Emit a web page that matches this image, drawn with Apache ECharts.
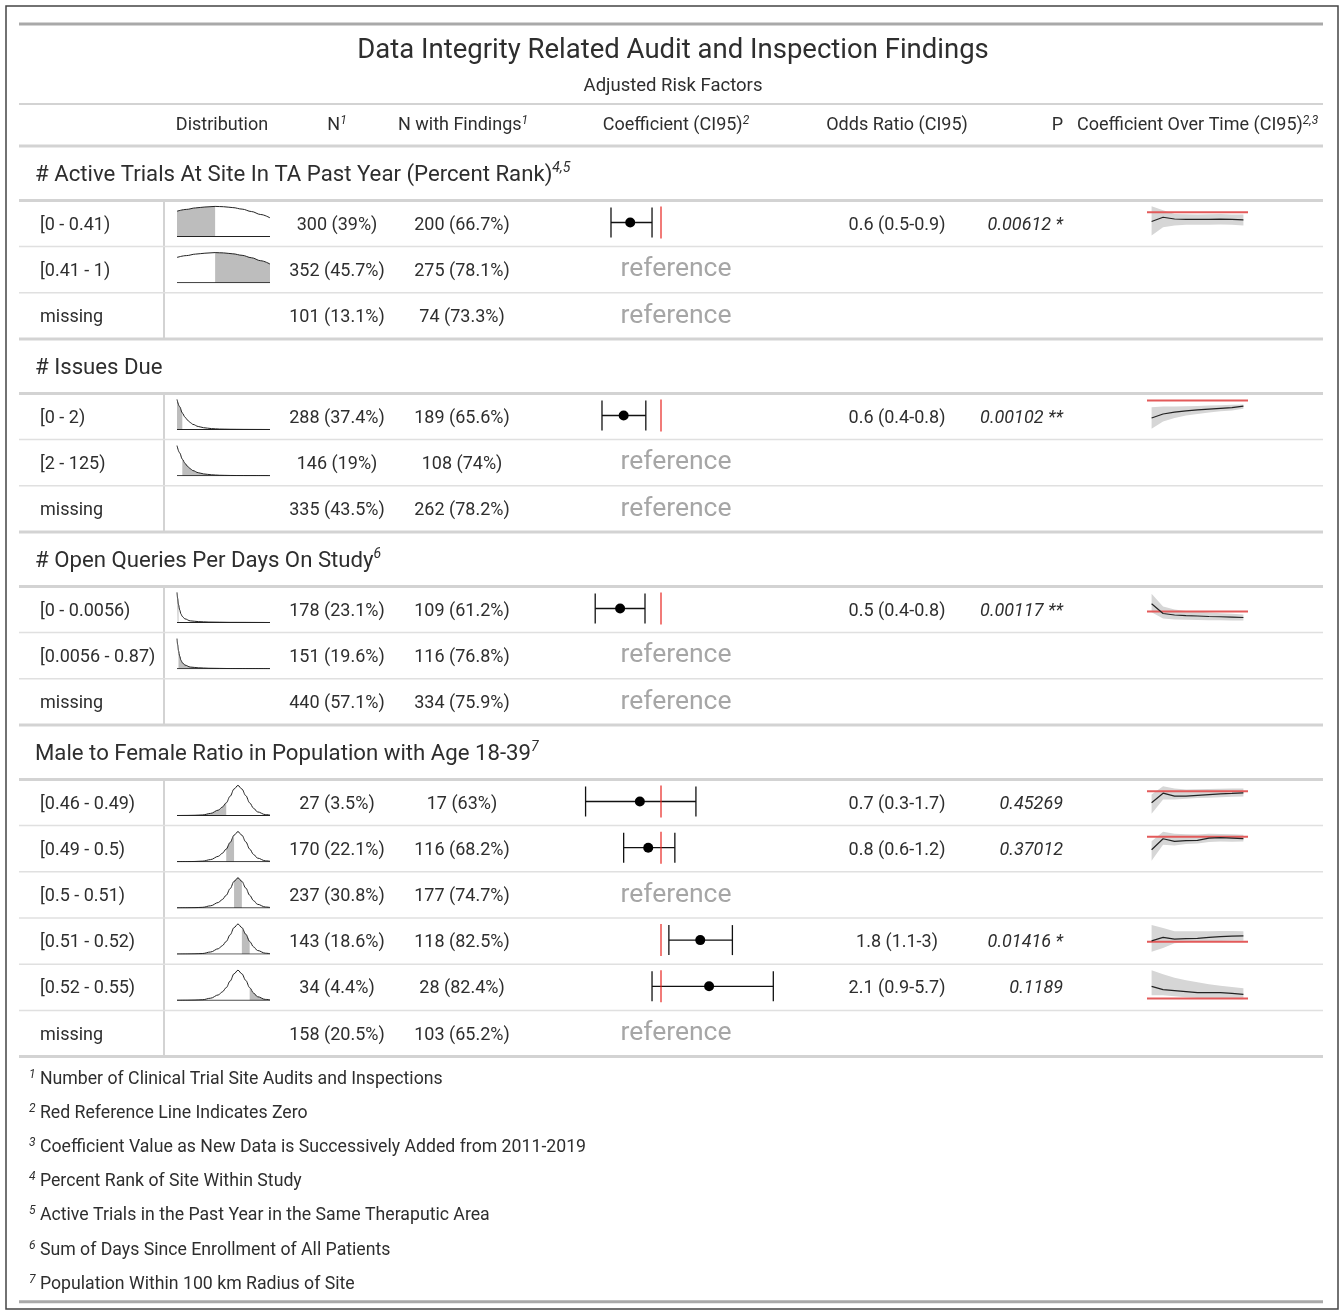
<!DOCTYPE html>
<html>
<head>
<meta charset="utf-8">
<title>Data Integrity Related Audit and Inspection Findings</title>
<script src="https://cdn.jsdelivr.net/npm/echarts@6.0.0/dist/echarts.min.js"></script>
<style>
  html, body { margin: 0; padding: 0; background: #fff; }
  #chart { width: 1341px; height: 1313px; }
</style>
</head>
<body>
<div id="chart"></div>
<script>
// ---------------- data ----------------
const titleText = 'Data Integrity Related Audit and Inspection Findings';
const subtitleText = 'Adjusted Risk Factors';

const groupNames = [
  '# Active Trials At Site In TA Past Year (Percent Rank)',
  '# Issues Due',
  '# Open Queries Per Days On Study',
  'Male to Female Ratio in Population with Age 18-39'
];
const groupSups = ['4,5', '', '6', '7'];
const groupSizes = [3, 3, 3, 6];

const rowLabels = [
  '[0 - 0.41)', '[0.41 - 1)', 'missing',
  '[0 - 2)', '[2 - 125)', 'missing',
  '[0 - 0.0056)', '[0.0056 - 0.87)', 'missing',
  '[0.46 - 0.49)', '[0.49 - 0.5)', '[0.5 - 0.51)', '[0.51 - 0.52)', '[0.52 - 0.55)', 'missing'
];
const totalSites = 770;
const nSites    = [300, 352, 101, 288, 146, 335, 178, 151, 440, 27, 170, 237, 143, 34, 158];
const nFindings = [200, 275, 74, 189, 108, 262, 109, 116, 334, 17, 116, 177, 118, 28, 103];

// odds ratio + CI95 (null = reference level)
const orEst  = [0.62, null, null, 0.56, null, null, 0.53, null, null, 0.72, 0.82, null, 1.84, 2.11, null];
const orLow  = [0.46, null, null, 0.40, null, null, 0.36, null, null, 0.31, 0.56, null, 1.13, 0.87, null];
const orHigh = [0.87, null, null, 0.79, null, null, 0.78, null, null, 1.72, 1.24, null, 3.03, 5.72, null];
const pValues = [0.00612, null, null, 0.00102, null, null, 0.00117, null, null, 0.45269, 0.37012, null, 0.01416, 0.1189, null];

// density curves per group (x on the variable's scale, y relative)
const densX = [
  [0, 0.1, 0.2, 0.3, 0.41, 0.5, 0.6, 0.7, 0.8, 0.9, 1.0],
  [0, 1, 2, 3, 4, 5, 6, 8, 10, 13, 16, 20, 25, 30, 35],
  [0, 0.0025, 0.0056, 0.01, 0.015, 0.02, 0.03, 0.05, 0.08, 0.12, 0.2, 0.35],
  [0.427, 0.44, 0.45, 0.46, 0.47, 0.48, 0.485, 0.49, 0.495, 0.5, 0.505, 0.51, 0.515, 0.52, 0.525, 0.53, 0.54, 0.546]
];
const densY = [
  [0.84, 0.90, 0.95, 0.98, 1.00, 0.99, 0.96, 0.91, 0.83, 0.73, 0.62],
  [1.0, 0.76, 0.55, 0.41, 0.31, 0.23, 0.17, 0.1, 0.06, 0.03, 0.015, 0.008, 0.004, 0.002, 0.0],
  [1.0, 0.8, 0.6, 0.42, 0.28, 0.2, 0.12, 0.055, 0.03, 0.015, 0.005, 0],
  [0.0, 0.003, 0.008, 0.02, 0.07, 0.18, 0.28, 0.42, 0.64, 0.88, 1.0, 0.88, 0.66, 0.42, 0.24, 0.12, 0.03, 0.015]
];
// shaded bin of each row on its group's density axis
const rowBins = [
  [0, 0.41], [0.41, 1], null,
  [0, 2], [2, 35], null,
  [0, 0.0056], [0.0056, 0.35], null,
  [0.46, 0.49], [0.49, 0.5], [0.5, 0.51], [0.51, 0.52], [0.52, 0.546], null
];

// coefficient over time (log odds), 2011-2019
const years = [2011, 2012, 2013, 2014, 2015, 2016, 2017, 2018, 2019];
const trendCoef = [
  [-0.59, -0.32, -0.43, -0.46, -0.46, -0.45, -0.44, -0.46, -0.48], null, null,
  [-1.95, -1.5, -1.3, -1.15, -1.05, -0.95, -0.87, -0.8, -0.62], null, null,
  [0.82, -0.21, -0.37, -0.43, -0.48, -0.53, -0.56, -0.6, -0.64], null, null,
  [-2.3, -0.4, -1.0, -1.0, -0.85, -0.7, -0.55, -0.45, -0.33],
  [-1.34, -0.21, -0.48, -0.41, -0.38, -0.15, -0.1, -0.15, -0.2], null,
  [0.1, 0.45, 0.28, 0.33, 0.35, 0.45, 0.54, 0.59, 0.61],
  [2.12, 1.55, 1.38, 1.21, 1.03, 1.03, 1.03, 0.91, 0.74], null
];
const trendLow = [
  [-1.47, -0.95, -0.84, -0.8, -0.8, -0.79, -0.78, -0.8, -0.84], null, null,
  [-3.14, -2.33, -1.95, -1.67, -1.5, -1.33, -1.2, -1.1, -0.92], null, null,
  [-0.07, -0.74, -0.85, -0.88, -0.9, -0.92, -0.94, -0.95, -0.96], null, null,
  [-4.5, -1.66, -1.66, -1.5, -1.35, -1.3, -1.2, -1.12, -1.06],
  [-2.47, -0.82, -0.9, -0.75, -0.7, -0.55, -0.5, -0.52, -0.5], null,
  [-1.03, -0.65, -0.16, -0.05, 0.0, 0.05, 0.08, 0.1, 0.12],
  [0.57, 0.57, 0.4, 0.22, 0.1, 0.05, 0.0, -0.05, -0.1], null
];
const trendHigh = [
  [0.38, 0.12, -0.12, -0.13, -0.14, -0.13, -0.12, -0.14, -0.15], null, null,
  [-0.74, -0.67, -0.67, -0.64, -0.6, -0.56, -0.52, -0.48, -0.44], null, null,
  [1.88, 0.53, 0.21, 0.05, 0, -0.1, -0.18, -0.25, -0.32], null, null,
  [-0.66, 1.0, 0.54, 0.34, 0.4, 0.45, 0.5, 0.52, 0.54],
  [-0.48, 0.52, 0.31, 0.25, 0.22, 0.3, 0.28, 0.24, 0.2], null,
  [1.72, 1.41, 1.1, 1.1, 1.08, 1.1, 1.12, 1.12, 1.1],
  [4.88, 4.19, 3.6, 3.16, 2.8, 2.47, 2.2, 2.0, 1.78], null
];

const footMarks = ['1', '2', '3', '4', '5', '6', '7'];
const footNotes = [
  'Number of Clinical Trial Site Audits and Inspections',
  'Red Reference Line Indicates Zero',
  'Coefficient Value as New Data is Successively Added from 2011-2019',
  'Percent Rank of Site Within Study',
  'Active Trials in the Past Year in the Same Theraputic Area',
  'Sum of Days Since Enrollment of All Patients',
  'Population Within 100 km Radius of Site'
];

// ---------------- layout ----------------
const FONT = 'Roboto, "Noto Sans", sans-serif';
const INK = '#2e2e2e';
const TBL_L = 19, TBL_R = 1323;
const rowH = 46.2, headH = 54.4, tableTop = 146;
const FS = 18;          // body text size
const TY = 1.5;         // nudge text down to optical centre

// zero-line offset from row centre (px) and px per log-odds unit for each sparkline
const trendZeroOff = [-11.3, null, null, -16, null, null, 2, null, null, -11.3, -12, null, 0.7, 11.3, null];
const trendPx      = [15.8, null, null, 9, null, null, 9.4, null, null, 5, 9.7, null, 9.7, 5.8, null];

// forest axis: OR = 1 at x=661, 64.4 px per log unit
const FOREST_L = 560, FOREST_W = 230, FOREST_ZERO = 661, FOREST_K = 64.4;

const rowCY = [], rowGroup = [], groupCY = [], groupLineY = [], groupBottom = [];
let yy = tableTop;
groupSizes.forEach((n, g) => {
  groupCY.push(yy + 27.5);
  groupLineY.push(yy + headH);
  for (let i = 0; i < n; i++) { rowCY.push(yy + headH + rowH * (i + 0.5)); rowGroup.push(g); }
  yy += headH + rowH * n;
  groupBottom.push(yy);
});

const graphics = [], grids = [], xAxes = [], yAxes = [], series = [];

function hline(y, color, w, x1 = TBL_L, x2 = TBL_R) {
  graphics.push({ type: 'line', silent: true, shape: { x1, y1: y, x2, y2: y }, style: { stroke: color, lineWidth: w } });
}
function vline(x, y1, y2, color, w) {
  graphics.push({ type: 'line', silent: true, shape: { x1: x, y1, x2: x, y2 }, style: { stroke: color, lineWidth: w } });
}
function txt(x, y, text, o = {}) {
  const size = o.size || FS;
  const st = {
    text, fill: o.color || INK, fontSize: size, fontFamily: FONT,
    fontStyle: o.italic ? 'italic' : 'normal',
    align: o.align || 'left', textAlign: o.align || 'left',
    verticalAlign: 'middle', textVerticalAlign: 'middle'
  };
  if (o.rich) st.rich = o.rich;
  graphics.push({ type: 'text', x, y: y + TY, silent: true, style: st });
}
function supRich(size, supSize) {
  return {
    m: { fontSize: size, fontFamily: FONT, fill: INK, lineHeight: Math.round(size * 1.2) },
    s: { fontSize: supSize, fontFamily: FONT, fill: INK, fontStyle: 'italic', verticalAlign: 'top' }
  };
}
function addGrid(left, top, width, height, xr, yr) {
  const i = grids.length;
  grids.push({ left, top, width, height });
  xAxes.push({ gridIndex: i, type: 'value', min: xr[0], max: xr[1], show: false });
  yAxes.push({ gridIndex: i, type: 'value', min: yr[0], max: yr[1], show: false });
  return i;
}
const fmt1 = v => String(Math.round(v * 10) / 10);

// frame + title block
graphics.push({ type: 'rect', silent: true, shape: { x: 6, y: 6, width: 1332, height: 1303 }, style: { fill: 'none', stroke: '#444', lineWidth: 1.5 } });
hline(24, '#a9a9a9', 3);
txt(673, 49.5, titleText, { size: 27.5, align: 'center' });
txt(673, 85, subtitleText, { size: 18.5, align: 'center' });
hline(104, '#d3d3d3', 2);

// column headers
const hy = 124;
txt(222, hy, 'Distribution', { align: 'center' });
txt(337, hy, '{m|N}{s|1}', { align: 'center', rich: supRich(FS, 12) });
txt(463, hy, '{m|N with Findings}{s|1}', { align: 'center', rich: supRich(FS, 12) });
txt(676, hy, '{m|Coefficient (CI95)}{s|2}', { align: 'center', rich: supRich(FS, 12) });
txt(897, hy, 'Odds Ratio (CI95)', { align: 'center' });
txt(1063, hy, 'P', { align: 'right' });
txt(1077, hy, '{m|Coefficient Over Time (CI95)}{s|2,3}', { rich: supRich(FS, 12) });
hline(146, '#d3d3d3', 3);

// groups
groupNames.forEach((name, g) => {
  const label = groupSups[g] ? '{m|' + name + '}{s|' + groupSups[g] + '}' : '{m|' + name + '}';
  txt(35, groupCY[g], label, { rich: supRich(22.2, 14) });
  hline(groupLineY[g], '#d3d3d3', 3);
  vline(164, groupLineY[g], groupBottom[g], '#d3d3d3', 2);
  hline(groupBottom[g], '#d3d3d3', 3);
});

// rows
rowLabels.forEach((lab, r) => {
  const cy = rowCY[r], g = rowGroup[r];
  const lastInGroup = r === rowLabels.length - 1 || rowGroup[r + 1] !== g;
  if (!lastInGroup) hline(cy + rowH / 2, '#e0e0e0', 1.5);

  txt(40, cy, lab);
  const pct = fmt1(nSites[r] / totalSites * 100);
  const fpct = fmt1(nFindings[r] / nSites[r] * 100);
  txt(337, cy, nSites[r] + ' (' + pct + '%)', { align: 'center' });
  txt(462, cy, nFindings[r] + ' (' + fpct + '%)', { align: 'center' });

  // distribution sparkline
  if (rowBins[r]) {
    const xs = densX[g], ys = densY[g];
    const gi = addGrid(177, cy - 18, 93, 31, [xs[0], xs[xs.length - 1]], [0, 1.03]);
    const pts = xs.map((x, k) => [x, ys[k]]);
    const b = rowBins[r];
    const shade = pts.filter(p => p[0] >= b[0] - 1e-9 && p[0] <= b[1] + 1e-9);
    const common = { type: 'line', xAxisIndex: gi, yAxisIndex: gi, symbol: 'none', silent: true, smooth: 0.35, smoothMonotone: 'x', emphasis: { disabled: true } };
    series.push(Object.assign({}, common, { data: shade, lineStyle: { opacity: 0 }, areaStyle: { color: '#bdbdbd', opacity: 1 } }));
    series.push(Object.assign({}, common, { data: pts, lineStyle: { color: '#222', width: 1 } }));
    series.push(Object.assign({}, common, { smooth: false, data: [[xs[0], 0], [xs[xs.length - 1], 0]], lineStyle: { color: '#222', width: 1 } }));
  }

  if (orEst[r] == null) {
    txt(676, cy - 1.5, 'reference', { size: 26.5, color: '#a6a6a6', align: 'center' });
    return;
  }

  // forest plot
  const fi = addGrid(FOREST_L, cy - 17, FOREST_W, 32,
    [(FOREST_L - FOREST_ZERO) / FOREST_K, (FOREST_L + FOREST_W - FOREST_ZERO) / FOREST_K], [-1, 1]);
  series.push({
    type: 'custom', xAxisIndex: fi, yAxisIndex: fi, silent: true,
    data: [[Math.log(orEst[r]), Math.log(orLow[r]), Math.log(orHigh[r]), 0]],
    encode: { x: [0, 1, 2], y: 3 },
    renderItem: (p, api) => {
      const e = api.coord([api.value(0), api.value(3)]);
      const l = api.coord([api.value(1), api.value(3)]);
      const h = api.coord([api.value(2), api.value(3)]);
      const st = { stroke: '#111', lineWidth: 1.3 };
      return {
        type: 'group', children: [
          { type: 'line', shape: { x1: l[0], y1: e[1], x2: h[0], y2: e[1] }, style: st },
          { type: 'line', shape: { x1: l[0], y1: e[1] - 15, x2: l[0], y2: e[1] + 15 }, style: st },
          { type: 'line', shape: { x1: h[0], y1: e[1] - 15, x2: h[0], y2: e[1] + 15 }, style: st },
          { type: 'circle', shape: { cx: e[0], cy: e[1], r: 5 }, style: { fill: '#000' } }
        ]
      };
    }
  });
  series.push({
    type: 'line', xAxisIndex: fi, yAxisIndex: fi, silent: true, symbol: 'none', z: 5,
    data: [[0, -1], [0, 1]], lineStyle: { color: '#e8231e', width: 1.2 }
  });

  txt(897, cy, fmt1(orEst[r]) + ' (' + fmt1(orLow[r]) + '-' + fmt1(orHigh[r]) + ')', { align: 'center' });
  const p = pValues[r];
  const stars = p < 0.005 ? ' **' : p < 0.05 ? ' *' : '';
  txt(1063, cy, String(p) + stars, { align: 'right', italic: true });

  // coefficient over time
  const off = trendZeroOff[r], k = trendPx[r];
  const ti = addGrid(1147, cy - 22, 101, 44, [2010.6, 2019.4], [(off - 22) / k, (off + 22) / k]);
  const lo = trendLow[r], hi = trendHigh[r], co = trendCoef[r];
  series.push({
    type: 'custom', xAxisIndex: ti, yAxisIndex: ti, silent: true, clip: true,
    data: [[years[0], co[0]]],
    renderItem: (pp, api) => {
      const up = years.map((yr, j) => api.coord([yr, hi[j]]));
      const dn = years.map((yr, j) => api.coord([yr, lo[j]])).reverse();
      return { type: 'polygon', shape: { points: up.concat(dn) }, style: { fill: '#d6d6d6' } };
    }
  });
  series.push({
    type: 'line', xAxisIndex: ti, yAxisIndex: ti, silent: true, symbol: 'none',
    data: [[2010.6, 0], [2019.4, 0]], lineStyle: { color: '#e35a5a', width: 2 }
  });
  series.push({
    type: 'line', xAxisIndex: ti, yAxisIndex: ti, silent: true, symbol: 'none',
    data: years.map((yr, j) => [yr, co[j]]), lineStyle: { color: '#222', width: 1.2 }
  });
});

// footnotes
const footTop = groupBottom[groupBottom.length - 1] + 21;
footNotes.forEach((t, i) => {
  txt(29, footTop + 34.2 * i, '{s|' + footMarks[i] + '}{m| ' + t + '}', { rich: supRich(17.7, 12) });
});
hline(footTop + 34.2 * 6 + 19, '#a9a9a9', 3);

const chart = echarts.init(document.getElementById('chart'), null, { renderer: 'canvas' });
chart.setOption({
  animation: false,
  backgroundColor: '#fff',
  graphic: graphics,
  grid: grids,
  xAxis: xAxes,
  yAxis: yAxes,
  series: series
});
</script>
</body>
</html>
